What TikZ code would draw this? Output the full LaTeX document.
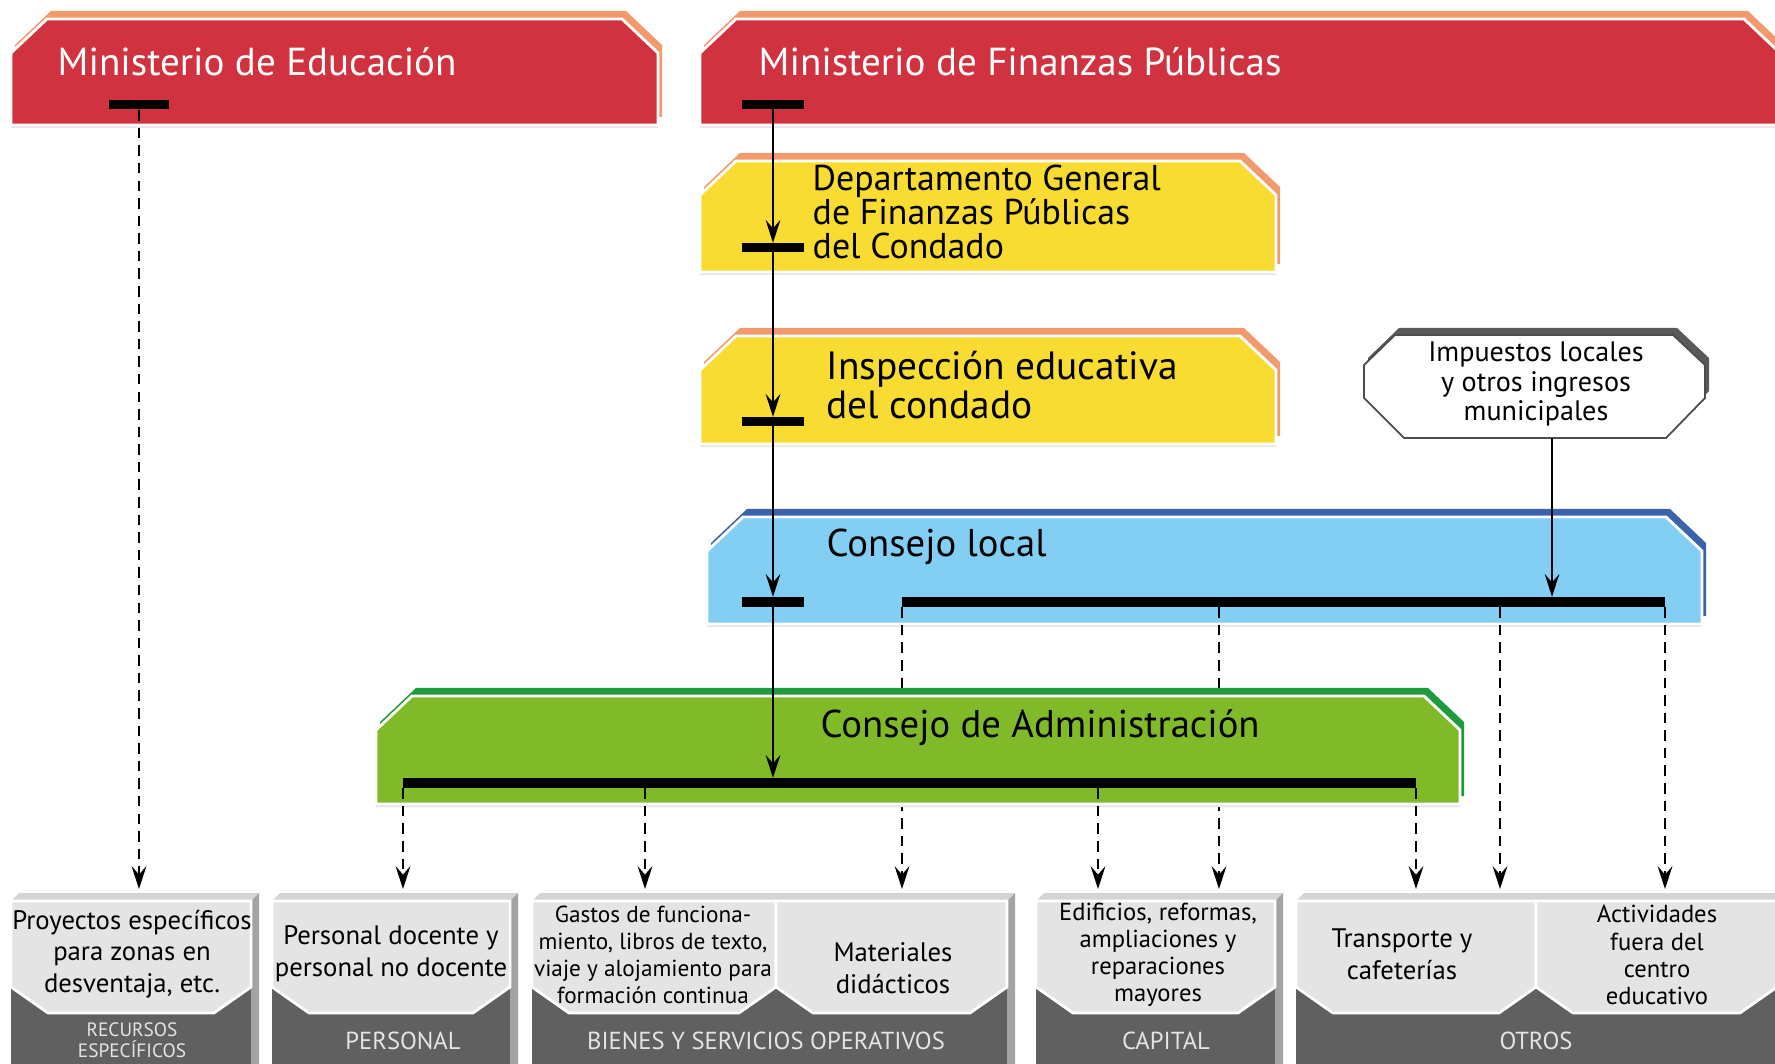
\documentclass[tikz,border=0pt]{standalone}
\usepackage{fontspec}
\setmainfont{PT Sans}
\usepackage{tikz}
\usetikzlibrary{arrows.meta,calc,positioning}

\definecolor{edured}{HTML}{D1323F}
\definecolor{tabedge}{HTML}{F29A6C}
\definecolor{deptyellow}{HTML}{F9DC32}
\definecolor{localblue}{HTML}{83CFF4}
\definecolor{localedge}{HTML}{3B63AC}
\definecolor{admingreen}{HTML}{80BA28}
\definecolor{adminedge}{HTML}{1F9B3D}
\definecolor{taxedge}{HTML}{5A5A5A}
\definecolor{paneltop}{HTML}{D4D4D4}
\definecolor{panelside}{HTML}{A3A3A3}
\definecolor{panellight}{HTML}{E4E4E4}
\definecolor{paneldark}{HTML}{606060}

\newcommand{\tabpath}[4]{(#1,#4) -- (#1,#2+34) -- (#1+36,#2) -- (#3-36,#2) -- (#3,#2+34) -- (#3,#4) -- cycle}
\newcommand{\toppath}[2]{(#1,901) -- (#1+8,893) -- (#2+8,893) -- (#2,901) -- cycle}
\newcommand{\sidepath}[1]{(#1,901) -- (#1+8,893) -- (#1+8,1064) -- (#1,1064) -- cycle}
\newcommand{\panelpath}[2]{(#1,901) -- (#1,987) -- (#1+37,1013) -- (#2-37,1013) -- (#2,987) -- (#2,901) -- cycle}

\begin{document}
\begin{tikzpicture}[x=0.01cm, y=-0.01cm, >={Stealth[length=6.5pt, width=4.2pt, inset=2.4pt]}]

\clip (0,0) rectangle (1775,1064);
\fill[white] (0,0) rectangle (1775,1064);

\tikzset{
  ground/.style={fill=black!10, shift={(0,3)}},
  rim/.style={fill=#1, shift={(4,-8)}},
  face/.style={fill=#1, draw=white, line width=0.8pt},
  bar/.style={fill=black, inner sep=0pt, minimum height=0.09cm},
  headtext/.style={anchor=west, inner sep=0pt, text=white, font=\fontsize{11.1}{12}\selectfont},
  boxtext/.style={anchor=west, inner sep=0pt, align=left},
  flow/.style={->, line width=0.6pt},
  money/.style={->, line width=0.7pt, dash pattern=on 3pt off 2pt},
  paneltext/.style={align=center, inner sep=0pt, font=\fontsize{7.6}{9}\selectfont},
  smalltext/.style={align=center, inner sep=0pt, font=\fontsize{7}{7.7}\selectfont},
  bandtext/.style={align=center, inner sep=0pt, text=panellight, font=\fontsize{7}{7.5}\selectfont}
}

\fill[ground] \tabpath{11}{19}{658}{125};
\fill[rim=tabedge] \tabpath{11}{19}{658}{125};
\filldraw[face=edured] \tabpath{11}{19}{658}{125};

\fill[ground] \tabpath{700}{19}{1780}{125};
\fill[rim=tabedge] \tabpath{700}{19}{1780}{125};
\filldraw[face=edured] \tabpath{700}{19}{1780}{125};

\fill[ground] \tabpath{700}{161}{1276}{272};
\fill[rim=tabedge] \tabpath{700}{161}{1276}{272};
\filldraw[face=deptyellow] \tabpath{700}{161}{1276}{272};

\fill[ground] \tabpath{700}{336}{1276}{444};
\fill[rim=tabedge] \tabpath{700}{336}{1276}{444};
\filldraw[face=deptyellow] \tabpath{700}{336}{1276}{444};

\fill[taxedge, shift={(4,-7)}] (1364,365) -- (1395,335) -- (1673,335) -- (1705,365) -- (1705,398) -- (1666,438) -- (1404,438) -- (1364,398) -- cycle;
\filldraw[fill=white, draw=black!70, line width=0.5pt] (1364,365) -- (1395,335) -- (1673,335) -- (1705,365) -- (1705,398) -- (1666,438) -- (1404,438) -- (1364,398) -- cycle;

\fill[ground] \tabpath{707}{517}{1702}{624};
\fill[rim=localedge] \tabpath{707}{517}{1702}{624};
\filldraw[face=localblue] \tabpath{707}{517}{1702}{624};

\node[headtext] (edu) at (57,62) {Ministerio de Educación};
\node[headtext] (fin) at (758,62) {Ministerio de Finanzas Públicas};
\node[boxtext, font=\fontsize{10.2}{9.7}\selectfont] (dept) at (812,212) {Departamento General\\de Finanzas Públicas\\del Condado};
\node[boxtext, font=\fontsize{11.2}{11}\selectfont] (insp) at (826,385) {Inspección educativa\\del condado};
\node[boxtext, font=\fontsize{11}{11}\selectfont] (local) at (826,547) {Consejo local};
\node[smalltext, font=\fontsize{8}{8.4}\selectfont] (tax) at (1536,384) {Impuestos locales\\y otros ingresos\\municipales};

\node[bar, minimum width=0.6cm] (edubar) at (139,105) {};
\node[bar, minimum width=0.61cm] (finbar) at (773,105) {};
\node[bar, minimum width=0.61cm] (deptbar) at (773,248) {};
\node[bar, minimum width=0.61cm] (inspbar) at (773,422) {};
\node[bar, minimum width=0.61cm] (localbar) at (773,602) {};
\node[bar, minimum width=7.63cm] (localline) at (1283.5,602) {};

\coordinate (toRecursos) at (139,889);
\coordinate (toPersonal) at (403,889);
\coordinate (toGastos) at (645,889);
\coordinate (toMateriales) at (902,889);
\coordinate (toCapitalA) at (1098,889);
\coordinate (toCapitalB) at (1219,889);
\coordinate (toTransporteA) at (1416,889);
\coordinate (toTransporteB) at (1500,889);
\coordinate (toActividades) at (1665,889);
\coordinate (taxout) at (1552,438);

\draw[money] (toMateriales |- localline.south) -- (toMateriales);
\draw[money] (toCapitalB |- localline.south) -- (toCapitalB);
\draw[money] (toTransporteB |- localline.south) -- (toTransporteB);
\draw[money] (toActividades |- localline.south) -- (toActividades);

\fill[ground] \tabpath{376}{696}{1460}{804};
\fill[rim=adminedge] \tabpath{376}{696}{1460}{804};
\filldraw[face=admingreen] \tabpath{376}{696}{1460}{804};
\node[boxtext, font=\fontsize{11}{11}\selectfont] (admin) at (820,728) {Consejo de Administración};
\node[bar, minimum width=10.13cm] (adminbar) at (909.5,783) {};

\draw[flow] (finbar.center) -- (deptbar.north);
\draw[flow] (deptbar.center) -- (inspbar.north);
\draw[flow] (inspbar.center) -- (localbar.north);
\draw[flow] (localbar.center) -- (localbar |- adminbar.north);
\draw[flow] (taxout) -- (taxout |- localline.north);

\draw[money] (edubar.south) -- (toRecursos);
\draw[money] (toPersonal |- adminbar.south) -- (toPersonal);
\draw[money] (toGastos |- adminbar.south) -- (toGastos);
\draw[money] (toCapitalA |- adminbar.south) -- (toCapitalA);
\draw[money] (toTransporteA |- adminbar.south) -- (toTransporteA);

\fill[paneltop] \toppath{11}{251};
\fill[panelside] \sidepath{251};
\fill[paneldark] (11,901) rectangle (251,1064);
\filldraw[face=panellight] \panelpath{11}{251};

\fill[paneltop] \toppath{272}{510};
\fill[panelside] \sidepath{510};
\fill[paneldark] (272,901) rectangle (510,1064);
\filldraw[face=panellight] \panelpath{272}{510};

\fill[paneltop] \toppath{532}{1007};
\fill[panelside] \sidepath{1007};
\fill[paneldark] (532,901) rectangle (1007,1064);
\filldraw[face=panellight] \panelpath{532}{776};
\filldraw[face=panellight] \panelpath{776}{1007};

\fill[paneltop] \toppath{1036}{1275};
\fill[panelside] \sidepath{1275};
\fill[paneldark] (1036,901) rectangle (1275,1064);
\filldraw[face=panellight] \panelpath{1036}{1275};

\fill[paneltop] \toppath{1296}{1777};
\fill[paneldark] (1296,901) rectangle (1777,1064);
\filldraw[face=panellight] \panelpath{1296}{1536};
\filldraw[face=panellight] \panelpath{1536}{1777};

\node[paneltext] (proyectos) at (132,954) {Proyectos específicos\\para zonas en\\desventaja, etc.};
\node[paneltext] (docente) at (391,954) {Personal docente y\\personal no docente};
\node[smalltext, font=\fontsize{6.6}{7.7}\selectfont] (gastos) at (653,955) {Gastos de funciona-\\miento, libros de texto,\\viaje y alojamiento para\\formación continua};
\node[paneltext] (materiales) at (893,968) {Materiales\\didácticos};
\node[smalltext] (edificios) at (1158,955) {Edificios, reformas,\\ampliaciones y\\reparaciones\\mayores};
\node[paneltext] (transporte) at (1402,954) {Transporte y\\cafeterías};
\node[smalltext] (actividades) at (1657,955) {Actividades\\fuera del\\centro\\educativo};

\node[bandtext, font=\fontsize{5.5}{6}\selectfont] (recursos) at (132,1040) {RECURSOS\\ESPECÍFICOS};
\node[bandtext] (personal) at (403,1041) {PERSONAL};
\node[bandtext] (bienes) at (766,1041) {BIENES Y SERVICIOS OPERATIVOS};
\node[bandtext] (capital) at (1166,1041) {CAPITAL};
\node[bandtext] (otros) at (1536,1041) {OTROS};

\end{tikzpicture}
\end{document}
